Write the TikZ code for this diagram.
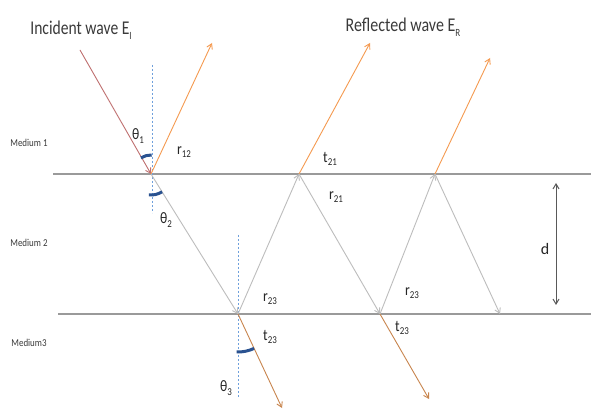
\documentclass[tikz,border=0pt]{standalone}
\usepackage{fontspec}
\setmainfont{Carlito}
\usepackage{graphicx}
\usetikzlibrary{arrows.meta}
\definecolor{incid}{HTML}{BF7070}
\definecolor{orng}{HTML}{F59A50}
\definecolor{trans}{HTML}{C8854E}
\definecolor{ray}{HTML}{BDBDBD}
\definecolor{iface}{HTML}{9A9A9A}
\definecolor{arcblue}{HTML}{2A5290}
\definecolor{normal}{HTML}{6FA0DC}
\definecolor{txt}{HTML}{3A3A3A}
\newcommand\lblsub[2]{#1\raisebox{-0.45ex}{\fontsize{10.5}{11}\selectfont #2}}
\tikzset{
  raybase/.style={line width=0.9pt,-{Straight Barb[length=5pt,width=6pt]}},
  grayray/.style={raybase,draw=ray},
  orangeray/.style={raybase,draw=orng},
  transray/.style={raybase,draw=trans},
  incray/.style={raybase,draw=incid},
  ifaceline/.style={draw=iface,line width=1.6pt},
  normline/.style={draw=normal,line width=0.9pt,dash pattern=on 2pt off 2pt},
  angarc/.style={draw=arcblue,line width=3pt},
  title/.style={text=txt,inner sep=0pt,font=\fontsize{19.5}{22}\selectfont},
  lab/.style={text=black!85,inner sep=0pt,font=\fontsize{16}{18}\selectfont},
  medium/.style={text=txt,inner sep=0pt,font=\fontsize{10.5}{12}\selectfont},
  dim/.style={draw=black!65,line width=1pt,{Straight Barb[length=5pt,width=6pt]}-{Straight Barb[length=5pt,width=6pt]}}
}
\begin{document}
\begin{tikzpicture}[x=1pt,y=-1pt]
\useasboundingbox[fill=white] (0,0) rectangle (591,411);
% interfaces
\coordinate (L1a) at (53,174);
\coordinate (L1b) at (591,174);
\coordinate (L2a) at (58,314);
\coordinate (L2b) at (591,314);
\draw[ifaceline] (L1a) -- (L1b);
\draw[ifaceline] (L2a) -- (L2b);
% points
\coordinate (S) at (80,50);
\coordinate (P1) at (151,174);
\coordinate (Q1) at (238,314);
\coordinate (P2) at (299,174);
\coordinate (Q2) at (380,314);
\coordinate (P3) at (435,174);
\coordinate (Q3) at (500,314);
\coordinate (R1) at (212,43);
\coordinate (R2) at (370,43);
\coordinate (R3) at (490,58);
\coordinate (T1) at (282,408);
\coordinate (T2) at (429,399);
% normals
\coordinate (N1a) at (152,65);
\coordinate (N1b) at (152,213);
\coordinate (N2a) at (238,235);
\coordinate (N2b) at (238,398);
\draw[normline] (N1a) -- (N1b);
\draw[normline] (N2a) -- (N2b);
% rays
\draw[incray] (S) -- (P1);
\draw[orangeray] (P1) -- (R1);
\draw[grayray] (P1) -- (Q1);
\draw[grayray] (Q1) -- (P2);
\draw[orangeray] (P2) -- (R2);
\draw[grayray] (P2) -- (Q2);
\draw[grayray] (Q2) -- (P3);
\draw[orangeray] (P3) -- (R3);
\draw[grayray] (P3) -- (Q3);
\draw[transray] (Q1) -- (T1);
\draw[transray] (Q2) -- (T2);
% angle arcs
\draw[angarc] ([shift={(-88:19)}]P1) arc[start angle=-88,end angle=-122,radius=19];
\draw[angarc] ([shift={(96:21)}]P1) arc[start angle=96,end angle=58,radius=21];
\draw[angarc] ([shift={(92:38)}]Q1) arc[start angle=92,end angle=65,radius=38];
% thickness d
\coordinate (Da) at (556,183);
\coordinate (Db) at (556,305);
\draw[dim] (Da) -- (Db);
\node[lab] (dl) at (545,249) {d};
% titles
\node[title] (tI) at (81,30) {\scalebox{0.8}[1]{Incident wave E\raisebox{-0.55ex}{\fontsize{11}{12}\selectfont I}}};
\node[title] (tR) at (403,27) {\scalebox{0.82}[1]{Reflected wave E\raisebox{-0.55ex}{\fontsize{11}{12}\selectfont R}}};
% media
\node[medium] (m1) at (29,143) {\scalebox{0.85}[1]{Medium 1}};
\node[medium] (m2) at (29,243) {\scalebox{0.85}[1]{Medium 2}};
\node[medium] (m3) at (29,343) {\scalebox{0.85}[1]{Medium3}};
% labels
\node[lab] (th1) at (138,136) {\scalebox{0.85}[1]{\lblsub{θ}{1}}};
\node[lab] (r12) at (184,152) {\scalebox{0.85}[1]{\lblsub{r}{12}}};
\node[lab] (th2) at (166,220) {\scalebox{0.85}[1]{\lblsub{θ}{2}}};
\node[lab] (t21) at (330,159) {\scalebox{0.85}[1]{\lblsub{t}{21}}};
\node[lab] (r21) at (336,197) {\scalebox{0.85}[1]{\lblsub{r}{21}}};
\node[lab] (r23a) at (270,299) {\scalebox{0.85}[1]{\lblsub{r}{23}}};
\node[lab] (t23a) at (270,337) {\scalebox{0.85}[1]{\lblsub{t}{23}}};
\node[lab] (r23b) at (412,293) {\scalebox{0.85}[1]{\lblsub{r}{23}}};
\node[lab] (t23b) at (402,328) {\scalebox{0.85}[1]{\lblsub{t}{23}}};
\node[lab] (th3) at (226,388) {\scalebox{0.85}[1]{\lblsub{θ}{3}}};
\end{tikzpicture}
\end{document}
